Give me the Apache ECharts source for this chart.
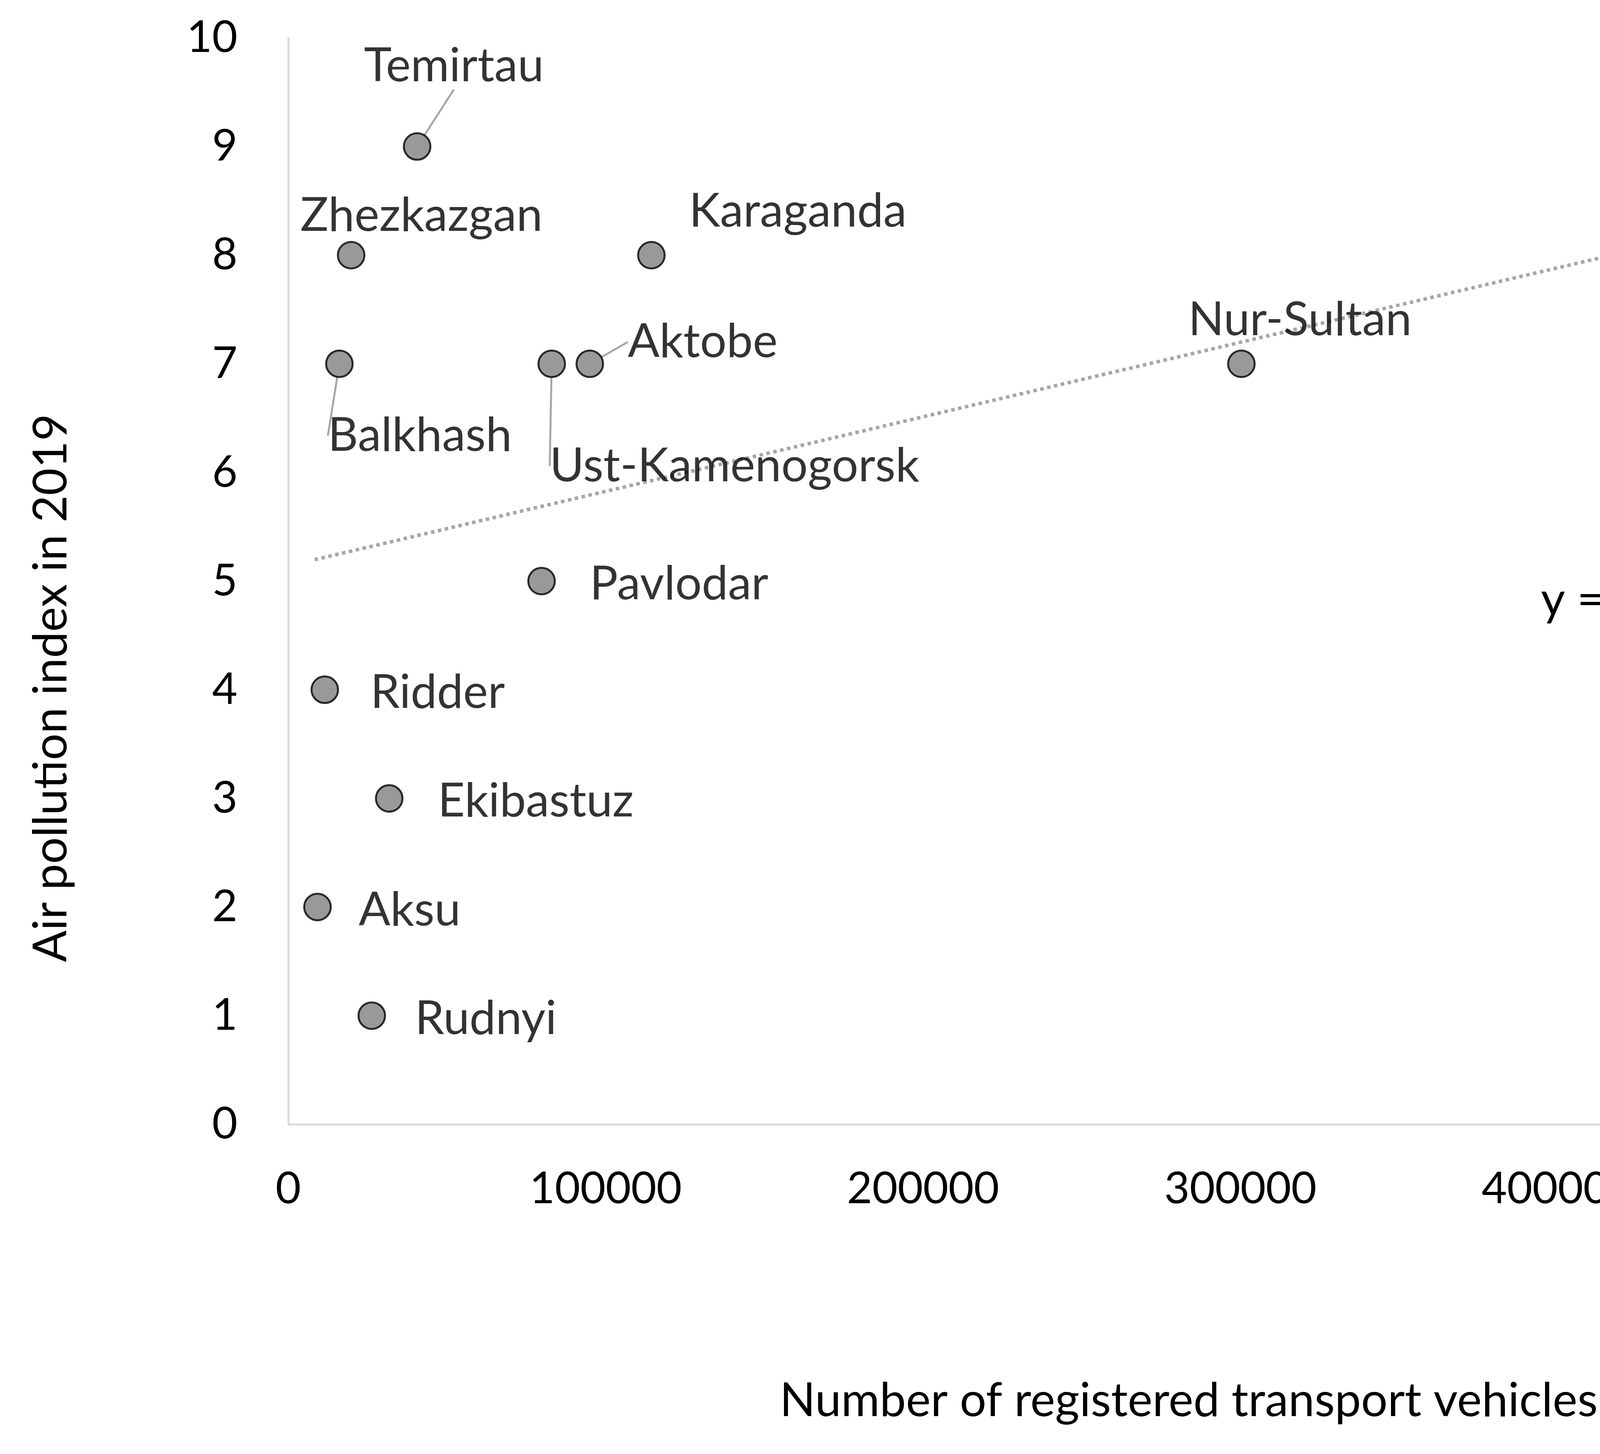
<!DOCTYPE html>
<html><head><meta charset="utf-8">
<script src="https://cdn.jsdelivr.net/npm/echarts@6/dist/echarts.min.js"></script>
<style>html,body{margin:0;padding:0;background:#fff}#c{width:5875px;height:3722px}</style>
</head><body><div id="c"></div>
<script>
const cities = ["Temirtau","Zhezkazgan","Karaganda","Balkhash","Ust-Kamenogorsk","Aktobe","Nur-Sultan","Almaty","Pavlodar","Ridder","Ekibastuz","Aksu","Rudnyi"];
const vehicles = [40600,19800,114400,16100,83000,95000,300300,515200,79800,11500,31800,9200,26300];
const pollution = [9,8,8,7,7,7,7,8,5,4,3,2,1];
const trendSlope = 6.86e-6, trendIntercept = 5.14;
const trendRange = [8300, 513000];
const offsets = {Temirtau:[94,-206,1],Zhezkazgan:[180,-101,0],Karaganda:[375,-112,0],Balkhash:[206,184,1],
 "Ust-Kamenogorsk":[468,262,1],Aktobe:[289,-56,1],"Nur-Sultan":[150,-112,0],Almaty:[-90,-127,1],
 Pavlodar:[352,8,0],Ridder:[289,8,0],Ekibastuz:[375,8,0],Aksu:[236,8,0],Rudnyi:[292,8,0]};
const F = 'Lato, "Liberation Sans", sans-serif';
const chart = echarts.init(document.getElementById('c'));
chart.setOption({
 animation:false,
 grid:{left:738,right:262,top:97,bottom:844},
 xAxis:{type:'value',min:0,max:600000,interval:100000,
  axisLine:{show:true,lineStyle:{color:'#d9d9d9',width:5}},axisTick:{show:false},splitLine:{show:false},
  axisLabel:{fontSize:112,color:'#000',fontFamily:F,margin:110,formatter:v=>String(v)}},
 yAxis:{type:'value',min:0,max:10,interval:1,
  axisLine:{show:true,lineStyle:{color:'#d9d9d9',width:5}},axisTick:{show:false},splitLine:{show:false},
  axisLabel:{fontSize:112,color:'#000',fontFamily:F,margin:130}},
 series:[
  {type:'line',data:trendRange.map(x=>[x,trendSlope*x+trendIntercept]),showSymbol:false,
   lineStyle:{color:'#a6a6a6',width:9,type:[9,9]},z:1,silent:true},
  {type:'scatter',symbolSize:68,z:3,
   itemStyle:{color:'#808080',borderColor:'#000',borderWidth:5},
   data:cities.map((c,i)=>({name:c,value:[vehicles[i],pollution[i]],labelLine:{show:!!offsets[c][2]}})),
   label:{show:true,position:'inside',formatter:p=>p.name,fontSize:120,color:'#000',fontFamily:F},
   labelLine:{lineStyle:{color:'#a6a6a6',width:5}},
   labelLayout:p=>{const o=offsets[cities[p.dataIndex]];return {dx:o[0],dy:o[1]};}
  }
 ],
 graphic:[
  {type:'text',x:4684,y:1536,style:{text:'y = 6.86 × 10⁻⁶x + 5.14 × 10',fontSize:120,fontFamily:F,fill:'#000',align:'center',verticalAlign:'middle'}},
  {type:'text',x:4684,y:1724,style:{text:'R² = 1.51 × 10⁻¹',fontSize:120,fontFamily:F,fill:'#000',align:'center',verticalAlign:'middle'}},
  {type:'text',x:3043,y:3586,style:{text:'Number of registered transport vehicles',fontSize:120,fontFamily:F,fill:'#000',align:'center',verticalAlign:'middle'}},
  {type:'text',x:131,y:1761,rotation:Math.PI/2,style:{text:'Air pollution index in 2019',fontSize:120,fontFamily:F,fill:'#000',align:'center',verticalAlign:'middle'}}
 ]
});
</script></body></html>
